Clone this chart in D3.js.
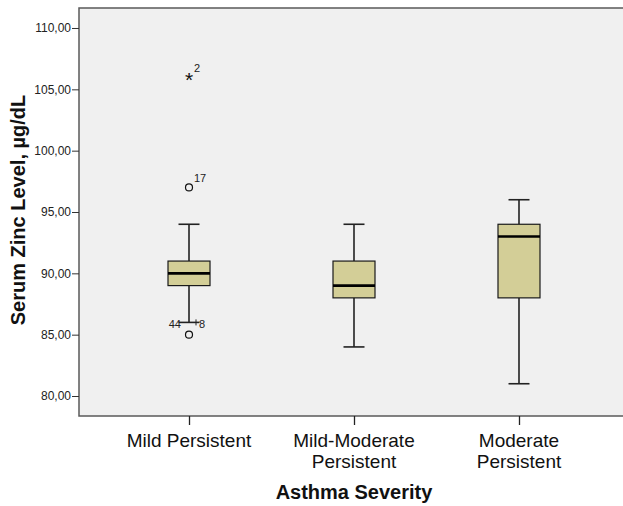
<!DOCTYPE html>
<html>
<head>
<meta charset="utf-8">
<script src="https://cdn.jsdelivr.net/npm/d3@7/dist/d3.min.js"></script>
<style>
  body { margin: 0; background: #fff; }
  text { font-family: "Liberation Sans", Arial, sans-serif; }
</style>
</head>
<body>
<div id="chart"></div>
<script>
// box plot values
const categories = ["Mild Persistent", "Mild-Moderate Persistent", "Moderate Persistent"];
const categoryLines = [["Mild Persistent"], ["Mild-Moderate", "Persistent"], ["Moderate", "Persistent"]];
const whiskerLow = [86, 84, 81];
const q1 = [89, 88, 88];
const median = [90, 89, 93];
const q3 = [91, 91, 94];
const whiskerHigh = [94, 94, 96];
// outliers: category index, value, kind, labels
const outlierCat = [0, 0, 0];
const outlierVal = [106, 97, 85];
const outlierKind = ["extreme", "outlier", "outlier"];
const outlierLabel = ["2", "17", ""];
const yTicks = [80, 85, 90, 95, 100, 105, 110];

var width = 623, height = 506;
var margin = {top: 8, left: 79, bottom: 90};

var svg = d3.select("#chart")
  .append("svg")
  .attr("width", width)
  .attr("height", height);

// x: band centres, plot area runs off the right edge
var x = d3.scalePoint()
  .domain(categories)
  .range([margin.left, 629])
  .padding(0.6667);

var y = d3.scaleLinear()
  .domain([78.37, 111.63])
  .range([height - margin.bottom, margin.top]);

// plot background
svg.append("rect")
  .attr("x", margin.left)
  .attr("y", margin.top)
  .attr("width", width - margin.left + 5)
  .attr("height", y.range()[0] - margin.top)
  .attr("fill", "#f0f0f0")
  .attr("stroke", "#5a5a5a")
  .attr("stroke-width", 1.5);

// Y axis
var yAxis = svg.append("g")
  .attr("transform", "translate(" + margin.left + ",0)")
  .call(d3.axisLeft(y).tickValues(yTicks).tickSize(7).tickSizeOuter(0)
    .tickFormat(function(d) { return d3.format(".2f")(d).replace(".", ","); }));
yAxis.select(".domain").remove();
yAxis.selectAll(".tick line").attr("stroke", "#333");
yAxis.selectAll(".tick text")
  .attr("x", -8)
  .attr("font-size", 12)
  .attr("fill", "#222")
  .style("font-family", "Liberation Sans, Arial, sans-serif");

// X axis
var xAxis = svg.append("g")
  .attr("transform", "translate(0," + y.range()[0] + ")")
  .call(d3.axisBottom(x).tickSize(9).tickSizeOuter(0).tickFormat(""));
xAxis.select(".domain").remove();
xAxis.selectAll(".tick line").attr("stroke", "#222").attr("stroke-width", 1.3);

categories.forEach(function(c, i) {
  var t = svg.append("text")
    .attr("x", x(c))
    .attr("y", 447)
    .attr("text-anchor", "middle")
    .attr("font-size", 19)
    .attr("fill", "#111");
  categoryLines[i].forEach(function(line, j) {
    t.append("tspan").attr("x", x(c)).attr("dy", j === 0 ? 0 : 21).text(line);
  });
});

// axis titles
svg.append("text")
  .attr("x", 354)
  .attr("y", 499)
  .attr("text-anchor", "middle")
  .attr("font-size", 20)
  .attr("font-weight", "bold")
  .attr("fill", "#111")
  .text("Asthma Severity");

svg.append("text")
  .attr("transform", "translate(25,210) rotate(-90)")
  .attr("text-anchor", "middle")
  .attr("font-size", 20)
  .attr("font-weight", "bold")
  .attr("fill", "#111")
  .text("Serum Zinc Level, µg/dL");

// boxes
var boxW = 42, capW = 21;
var g = svg.append("g");
categories.forEach(function(c, i) {
  var cx = x(c);
  // whiskers
  g.append("line").attr("x1", cx).attr("x2", cx)
    .attr("y1", y(whiskerHigh[i])).attr("y2", y(q3[i]))
    .attr("stroke", "#222").attr("stroke-width", 1.6);
  g.append("line").attr("x1", cx).attr("x2", cx)
    .attr("y1", y(q1[i])).attr("y2", y(whiskerLow[i]))
    .attr("stroke", "#222").attr("stroke-width", 1.6);
  [whiskerHigh[i], whiskerLow[i]].forEach(function(v) {
    g.append("line").attr("x1", cx - capW / 2).attr("x2", cx + capW / 2)
      .attr("y1", y(v)).attr("y2", y(v))
      .attr("stroke", "#222").attr("stroke-width", 1.6);
  });
  // box
  g.append("rect")
    .attr("x", cx - boxW / 2)
    .attr("y", y(q3[i]))
    .attr("width", boxW)
    .attr("height", y(q1[i]) - y(q3[i]))
    .attr("fill", "#d3ce97")
    .attr("stroke", "#1a1a1a")
    .attr("stroke-width", 1.2);
  // median
  g.append("line").attr("x1", cx - boxW / 2).attr("x2", cx + boxW / 2)
    .attr("y1", y(median[i])).attr("y2", y(median[i]))
    .attr("stroke", "#000").attr("stroke-width", 2.6);
});

// outliers
outlierVal.forEach(function(v, i) {
  var cx = x(categories[outlierCat[i]]), cy = y(v);
  if (outlierKind[i] === "extreme") {
    g.append("text").attr("x", cx).attr("y", cy + 10)
      .attr("text-anchor", "middle").attr("font-size", 21).attr("fill", "#111")
      .text("*");
  } else {
    g.append("circle").attr("cx", cx).attr("cy", cy).attr("r", 3.5)
      .attr("fill", "none").attr("stroke", "#111").attr("stroke-width", 1.2);
  }
  if (outlierLabel[i]) {
    g.append("text").attr("x", cx + 5).attr("y", cy - 5)
      .attr("font-size", 11).attr("fill", "#222").text(outlierLabel[i]);
  }
});

// overlapping case labels near the lower whisker of Mild Persistent
var lowCx = x(categories[0]), lowY = y(whiskerLow[0]);
g.append("text").attr("x", lowCx - 8).attr("y", lowY + 6)
  .attr("text-anchor", "end").attr("font-size", 11).attr("fill", "#222").text("44");
g.append("text").attr("x", lowCx + 10).attr("y", lowY + 6)
  .attr("font-size", 11).attr("fill", "#222").text("8");
g.append("line").attr("x1", lowCx + 7).attr("x2", lowCx + 7)
  .attr("y1", lowY - 3).attr("y2", lowY + 3)
  .attr("stroke", "#222").attr("stroke-width", 1);
</script>
</body>
</html>
